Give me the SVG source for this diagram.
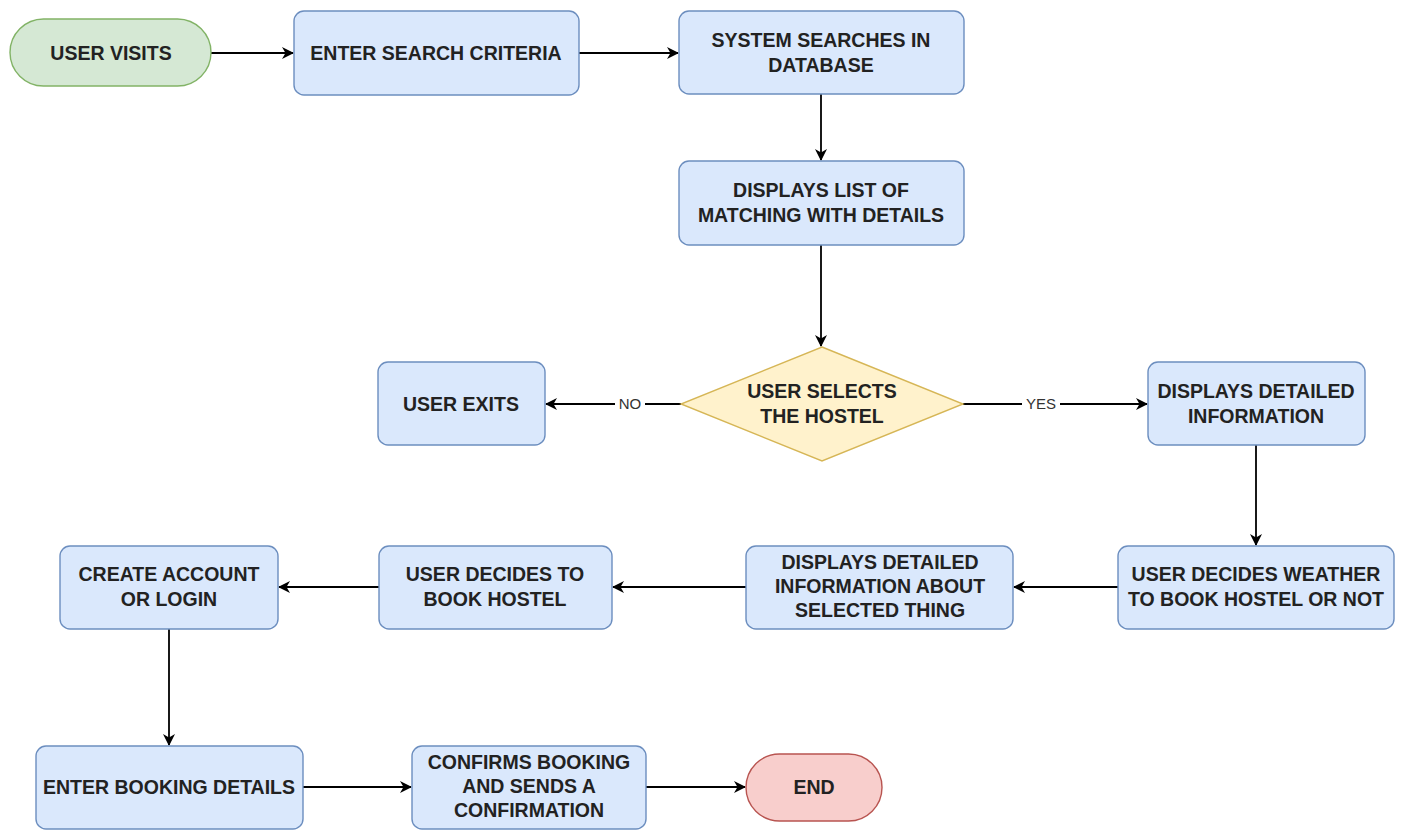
<svg xmlns="http://www.w3.org/2000/svg" width="1404" height="830" viewBox="0 0 1404 830">
<defs>
<marker id="arr" viewBox="0 0 12 12" refX="11" refY="6" markerWidth="12" markerHeight="12" markerUnits="userSpaceOnUse" orient="auto">
<path d="M0,0 L12,6 L0,12 L3.5,6 Z" fill="#000"/>
</marker>
<style>
.blue{fill:#dae8fc;stroke:#6c8ebf;stroke-width:1.4}
.green{fill:#d5e8d4;stroke:#82b366;stroke-width:1.4}
.yellow{fill:#fff2cc;stroke:#d6b656;stroke-width:1.4}
.red{fill:#f8cecc;stroke:#b85450;stroke-width:1.4}
.t{font-family:"Liberation Sans",Arial,sans-serif;font-weight:bold;font-size:19.5px;fill:#222;text-anchor:middle}
.e{fill:none;stroke:#000;stroke-width:1.8;marker-end:url(#arr)}
.l{font-family:"Liberation Sans",Arial,sans-serif;font-size:15px;fill:#333;text-anchor:middle}
</style>
</defs>
<rect width="1404" height="830" fill="#fff"/>
<g id="connectors">
<path class="e" d="M211,53 L293,53"/>
<path class="e" d="M579,53 L678,53"/>
<path class="e" d="M821,94 L821,160"/>
<path class="e" d="M821,245 L821,346"/>
<path class="e" d="M681,404 L546,404"/>
<path class="e" d="M963,404 L1147,404"/>
<path class="e" d="M1256,445 L1256,545"/>
<path class="e" d="M1118,587 L1014,587"/>
<path class="e" d="M746,587 L613,587"/>
<path class="e" d="M379,587 L279,587"/>
<path class="e" d="M169,629 L169,745"/>
<path class="e" d="M303,787 L411,787"/>
<path class="e" d="M646,787 L745,787"/>
<rect x="615" y="396" width="30" height="16" fill="#fff"/>
<text class="l" x="630" y="409">NO</text>
<rect x="1022" y="396" width="38" height="16" fill="#fff"/>
<text class="l" x="1041" y="409">YES</text>
</g>
<g id="n1"><rect class="green" x="10" y="19" width="201" height="67" rx="33.5"/><text class="t" x="111" y="60">USER VISITS</text></g>
<g id="n2"><rect class="blue" x="294" y="11" width="285" height="84" rx="10"/><text class="t" x="436" y="60">ENTER SEARCH CRITERIA</text></g>
<g id="n3"><rect class="blue" x="679" y="11" width="285" height="83" rx="10"/><text class="t" x="821" y="47">SYSTEM SEARCHES IN</text><text class="t" x="821" y="72">DATABASE</text></g>
<g id="n4"><rect class="blue" x="679" y="161" width="285" height="84" rx="10"/><text class="t" x="821" y="197">DISPLAYS LIST OF</text><text class="t" x="821" y="222">MATCHING WITH DETAILS</text></g>
<g id="n5"><path class="yellow" d="M822,347 L963,404 L822,461 L681,404 Z"/><text class="t" x="822" y="398">USER SELECTS</text><text class="t" x="822" y="423">THE HOSTEL</text></g>
<g id="n6"><rect class="blue" x="378" y="362" width="167" height="83" rx="10"/><text class="t" x="461" y="411">USER EXITS</text></g>
<g id="n7"><rect class="blue" x="1148" y="362" width="217" height="83" rx="10"/><text class="t" x="1256" y="398">DISPLAYS DETAILED</text><text class="t" x="1256" y="423">INFORMATION</text></g>
<g id="n8"><rect class="blue" x="1118" y="546" width="276" height="83" rx="10"/><text class="t" x="1256" y="581">USER DECIDES WEATHER</text><text class="t" x="1256" y="606">TO BOOK HOSTEL OR NOT</text></g>
<g id="n9"><rect class="blue" x="746" y="546" width="267" height="83" rx="10"/><text class="t" x="880" y="569">DISPLAYS DETAILED</text><text class="t" x="880" y="593">INFORMATION ABOUT</text><text class="t" x="880" y="617">SELECTED THING</text></g>
<g id="n10"><rect class="blue" x="379" y="546" width="233" height="83" rx="10"/><text class="t" x="495" y="581">USER DECIDES TO</text><text class="t" x="495" y="606">BOOK HOSTEL</text></g>
<g id="n11"><rect class="blue" x="60" y="546" width="218" height="83" rx="10"/><text class="t" x="169" y="581">CREATE ACCOUNT</text><text class="t" x="169" y="606">OR LOGIN</text></g>
<g id="n12"><rect class="blue" x="36" y="746" width="267" height="83" rx="10"/><text class="t" x="169" y="794">ENTER BOOKING DETAILS</text></g>
<g id="n13"><rect class="blue" x="412" y="746" width="234" height="83" rx="10"/><text class="t" x="529" y="769">CONFIRMS BOOKING</text><text class="t" x="529" y="793">AND SENDS A</text><text class="t" x="529" y="817">CONFIRMATION</text></g>
<g id="n14"><rect class="red" x="746" y="754" width="136" height="67" rx="33.5"/><text class="t" x="814" y="794">END</text></g>
</svg>
